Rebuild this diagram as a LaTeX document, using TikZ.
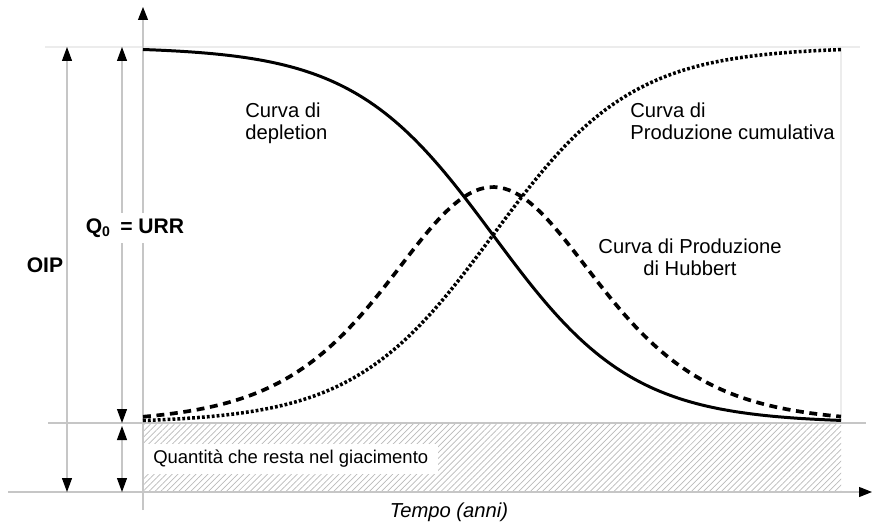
\documentclass[tikz,border=0pt]{standalone}
\usepackage{fontspec}
\setmainfont{Liberation Sans}
\usetikzlibrary{arrows.meta,patterns.meta}

\newcommand{\kslope}{0.0143}

\tikzset{
  guide/.style={gray!45,line width=0.6pt},
  faint/.style={gray!15,line width=0.6pt},
  dimarrow/.style={guide,{Triangle[length=0.28cm,width=0.2cm,black]}-{Triangle[length=0.28cm,width=0.2cm,black]}},
  depl/.style={line width=1.7pt},
  cumul/.style={line width=2pt,dash pattern=on 1.6pt off 1.2pt},
  hubb/.style={line width=2.1pt,dash pattern=on 4.5pt off 3.2pt},
  lbl/.style={inner sep=0,align=left,font=\fontsize{11.5}{12.5}\selectfont},
  qty/.style={font=\fontsize{12}{14}\selectfont\bfseries,fill=white}
}

\begin{document}
\begin{tikzpicture}[x=0.02cm,y=-0.02cm,font=\fontsize{10.5}{12.5}\selectfont]
\useasboundingbox (0,0) rectangle (872,527);

% oil left in the field
\fill[pattern={Lines[angle=45,distance=2.4pt,line width=0.4pt]},pattern color=gray!55]
  (143,423) rectangle (841,492);
\node[fill=white,anchor=west,inner xsep=0.2cm,inner ysep=0.13cm] (resto) at (143,459)
  {Quantità che resta nel giacimento};

% guide lines
\draw[faint] (45,47) -- (860,47);
\draw[faint] (841,47) -- (841,423);
\draw[guide] (48,423) -- (866,423);

% axes
\coordinate (ybot) at (143,510);
\coordinate (ytop) at (143,7);
\coordinate (xleft) at (8,492);
\coordinate (xright) at (872,492);
\draw[guide,-{Triangle[length=0.26cm,width=0.2cm,black]}] (ybot) -- (ytop);
\draw[guide,-{Triangle[length=0.26cm,width=0.2cm,black]}] (xleft) -- (xright);

% dimension arrows
\coordinate (oipT) at (67,47);
\coordinate (oipB) at (67,492);
\coordinate (urrT) at (122,47);
\coordinate (urrB) at (122,423);
\coordinate (restT) at (122,426);
\coordinate (restB) at (122,492);
\draw[dimarrow] (oipT) -- (oipB);
\draw[dimarrow] (urrT) -- (urrB);
\draw[dimarrow] (restT) -- (restB);

\node[qty,fill=none] (oip) at (45,265) {OIP};
\node[qty] (urr) at (135,228) {Q\textsubscript{0}\, = URR};

% curves
\draw[depl] plot[domain=143:841,samples=140] (\x,{47+376/(1+exp(-\kslope*(\x-493)))});
\draw[cumul] plot[domain=143:841,samples=140] (\x,{423-376/(1+exp(-\kslope*(\x-493)))});
\draw[hubb] plot[domain=143:841,samples=140]
  (\x,{423-236/(cosh(\kslope*(\x-493)/2))^2});

% labels
\node[lbl,anchor=north west] (ldepl) at (245,103) {Curva di\\depletion};
\node[lbl,anchor=north west] (lcum) at (630,103) {Curva di\\Produzione cumulativa};
\node[lbl,align=center,anchor=north] (lhub) at (690,239) {Curva di Produzione\\di Hubbert};
\node[font=\fontsize{11.5}{12.5}\selectfont\itshape] (tempo) at (449,512) {Tempo (anni)};
\end{tikzpicture}
\end{document}
